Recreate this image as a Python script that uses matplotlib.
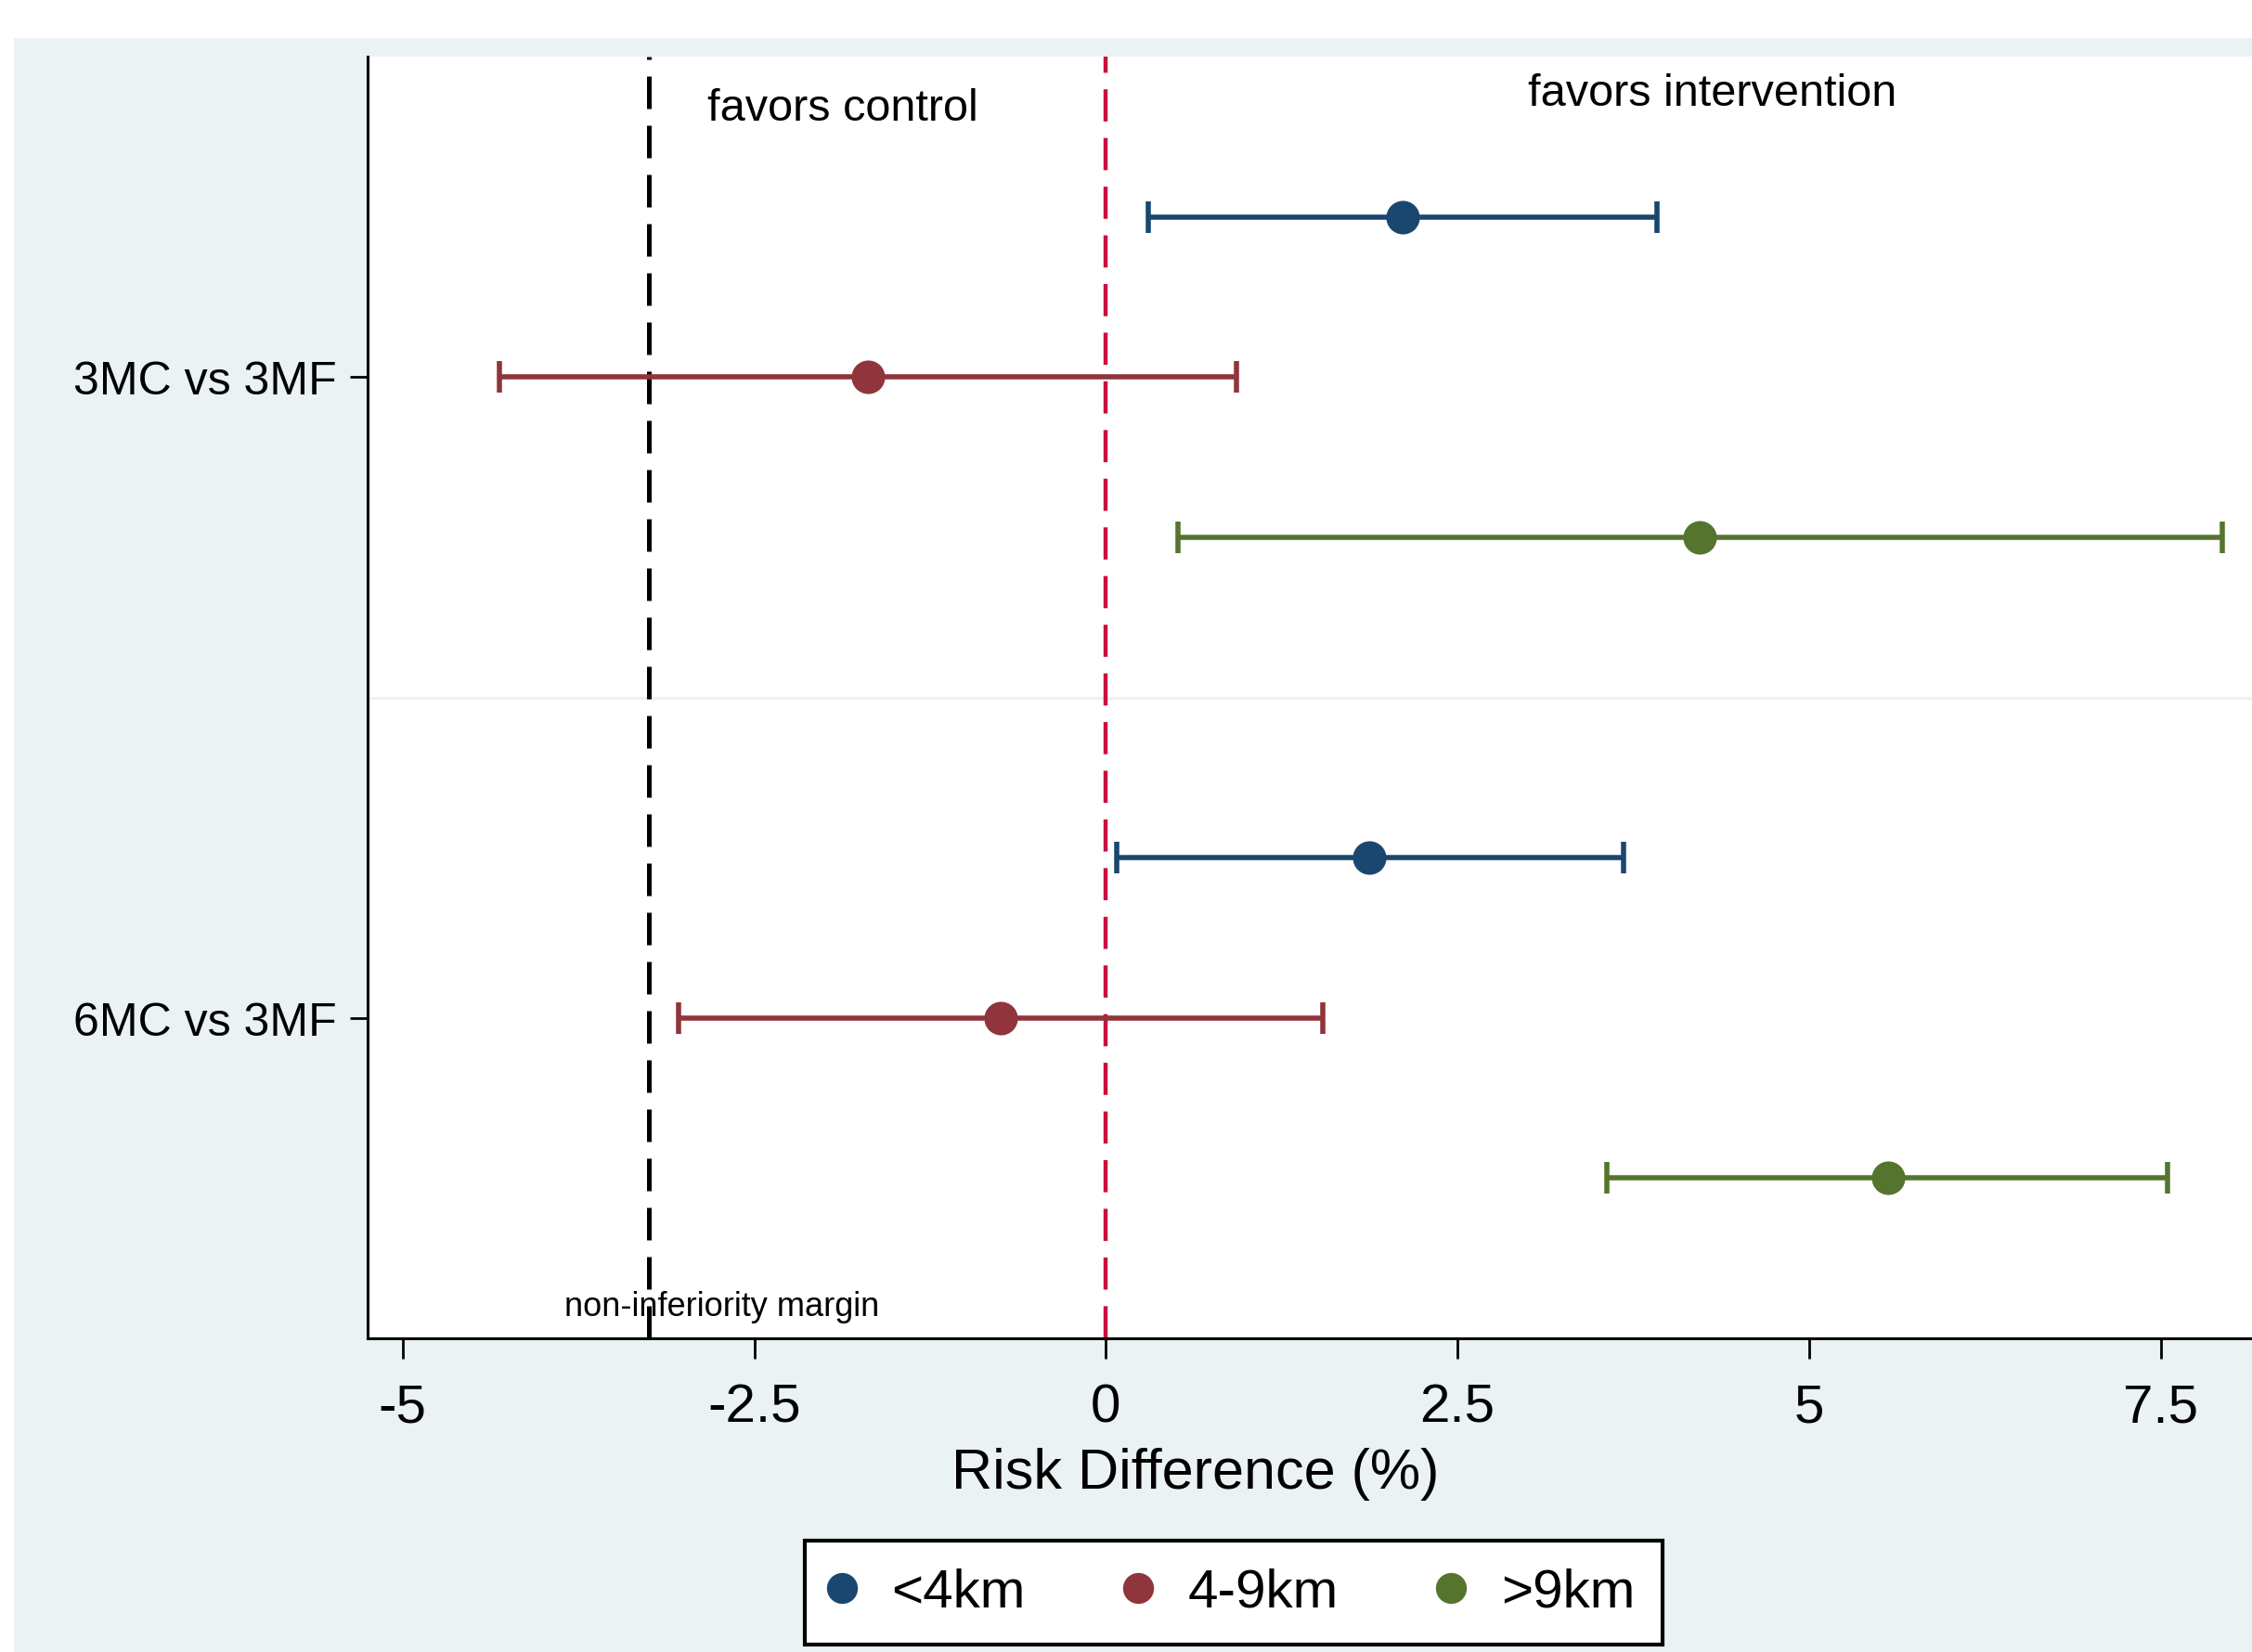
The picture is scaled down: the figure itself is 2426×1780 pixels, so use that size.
import matplotlib.pyplot as plt
from matplotlib.lines import Line2D
from matplotlib.patches import Rectangle

plt.rcParams['font.family'] = ['Liberation Sans', 'DejaVu Sans']

# comparisons and distance groups
comparisons = ["3MC vs 3MF", "6MC vs 3MF"]
groups = ["<4km", "4-9km", ">9km"]
colors = ["#1A476F", "#90353B", "#55752F"]

# risk difference (%) with 95% CI, one list per comparison, order of groups
rd = [[2.11, -1.69, 4.22], [1.87, -0.75, 5.56]]
lo = [[0.30, -4.31, 0.51], [0.08, -3.04, 3.56]]
hi = [[3.92, 0.93, 7.94], [3.68, 1.54, 7.55]]

margin = -3.25

fig = plt.figure(figsize=(12.13, 8.905), dpi=200)
fig.patches.append(Rectangle((15 / 2426, 0), 1, 1 - 42 / 1781, transform=fig.transFigure,
                             facecolor="#EAF2F3", edgecolor="none", zorder=-10))
ax = fig.add_axes([396 / 2426, 1 - 1443 / 1781, 1 - 396 / 2426, (1443 - 62) / 1781])
ax.set_facecolor("white")

for i, comp in enumerate(comparisons):
    for j, g in enumerate(groups):
        y = 4 * i + j + 1
        ax.errorbar(rd[i][j], y, xerr=[[rd[i][j] - lo[i][j]], [hi[i][j] - rd[i][j]]],
                    fmt="o", color=colors[j], ms=12, elinewidth=2.0, capsize=6,
                    capthick=2.0, zorder=5)

ax.axhline(4, color="#EAF2F3", lw=1.2, zorder=1)
ax.axvline(margin, color="black", lw=1.8, dashes=(7, 3.6), zorder=2)
ax.axvline(0, color="#C8103E", lw=1.6, dashes=(7.8, 4), zorder=2)

ax.text(-1.87, 0.32, "favors control", fontsize=17.5, ha="center", va="center")
ax.text(4.31, 0.23, "favors intervention", fontsize=17.5, ha="center", va="center")
ax.text(-2.73, 7.8, "non-inferiority margin", fontsize=13, ha="center", va="center")

ax.set_xlim(-5.25, 8.15)
ax.set_ylim(8, 0)
ax.set_xticks([-5, -2.5, 0, 2.5, 5, 7.5])
ax.set_xticklabels(["-5", "-2.5", "0", "2.5", "5", "7.5"])
ax.set_yticks([2, 6])
ax.set_yticklabels(comparisons)
ax.tick_params(axis="x", labelsize=21, length=8, width=1.0, pad=9)
ax.tick_params(axis="y", labelsize=18, length=7, width=1.0, pad=5)
for s in ["top", "right"]:
    ax.spines[s].set_visible(False)
for s in ["left", "bottom"]:
    ax.spines[s].set_linewidth(1.1)

ax.set_xlabel("Risk Difference (%)", fontsize=22)
ax.xaxis.set_label_coords((1288 - 396) / 2030, -(1589 - 1443) / 1381)
ax.xaxis.label.set_va("center")

handles = [Line2D([], [], ls="none", marker="o", color=c, ms=11) for c in colors]
leg = fig.legend(handles, groups, loc="center", bbox_to_anchor=(1329 / 2426, 1 - 1717 / 1781),
                 ncol=3, fontsize=21, frameon=True, fancybox=False, edgecolor="black",
                 facecolor="white", framealpha=1,
                 handletextpad=0.75, columnspacing=1.9, borderpad=0.5, handlelength=0.35)
leg.get_frame().set_linewidth(1.5)

fig.savefig("out.png", dpi=200)
